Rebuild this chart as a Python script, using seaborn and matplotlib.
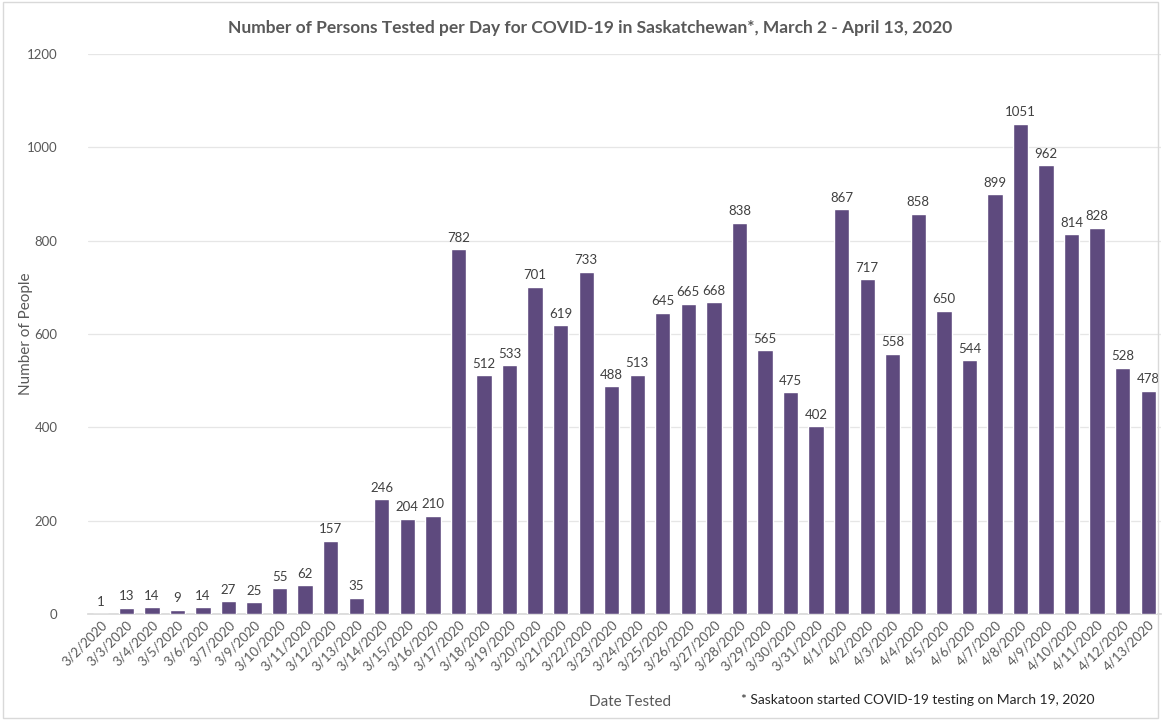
import matplotlib
matplotlib.use("Agg")
import matplotlib.pyplot as plt
import seaborn as sns
import pandas as pd
from matplotlib.patches import Rectangle

dates = ["3/2/2020", "3/3/2020", "3/4/2020", "3/5/2020", "3/6/2020", "3/7/2020", "3/9/2020",
         "3/10/2020", "3/11/2020", "3/12/2020", "3/13/2020", "3/14/2020", "3/15/2020", "3/16/2020",
         "3/17/2020", "3/18/2020", "3/19/2020", "3/20/2020", "3/21/2020", "3/22/2020", "3/23/2020",
         "3/24/2020", "3/25/2020", "3/26/2020", "3/27/2020", "3/28/2020", "3/29/2020", "3/30/2020",
         "3/31/2020", "4/1/2020", "4/2/2020", "4/3/2020", "4/4/2020", "4/5/2020", "4/6/2020",
         "4/7/2020", "4/8/2020", "4/9/2020", "4/10/2020", "4/11/2020", "4/12/2020", "4/13/2020"]
tested = [1, 13, 14, 9, 14, 27, 25, 55, 62, 157, 35, 246, 204, 210, 782, 512, 533, 701, 619, 733,
          488, 513, 645, 665, 668, 838, 565, 475, 402, 867, 717, 558, 858, 650, 544, 899, 1051, 962,
          814, 828, 528, 478]
yticks = [0, 200, 400, 600, 800, 1000, 1200]

sns.set_theme(style="white")
plt.rcParams['font.family'] = ['Lato', 'DejaVu Sans']

df = pd.DataFrame({"date": dates, "n": tested})
fig = plt.figure(figsize=(11.62, 7.2), dpi=100)
ax = fig.add_axes([88/1162, 1-614/720, (1161-88)/1162, (614-54)/720])

sns.barplot(data=df, x="date", y="n", order=dates, color="#5e4a7e", saturation=1,
            width=0.6, ax=ax, zorder=3)
ax.set_xlim(-0.5, len(dates)-0.5)
ax.set_ylim(0, 1200)
ax.set_yticks(yticks)
ax.yaxis.grid(True, color="#e6e6e6", linewidth=0.9, zorder=0)
ax.set_axisbelow(True)
for s in ["top", "right", "left"]:
    ax.spines[s].set_visible(False)
ax.spines["bottom"].set_color("#d9d9d9")
ax.tick_params(axis="y", labelsize=9.5, labelcolor="#595959", length=0, pad=22)
ax.tick_params(axis="x", labelsize=9.5, labelcolor="#595959", length=0, pad=3)
plt.setp(ax.get_xticklabels(), rotation=45, ha="right", rotation_mode="anchor")

ax.bar_label(ax.containers[0], labels=[str(v) for v in tested], padding=4,
             fontsize=9.5, color="#404040")

ax.set_xlabel("Date Tested", fontsize=11, color="#595959", labelpad=0)
ax.xaxis.set_label_coords((630-88)/(1161-88), -(695-614)/(614-54))
ax.set_ylabel("Number of People", fontsize=11, color="#595959", labelpad=10)
ax.yaxis.set_label_coords(-(88-33)/(1161-88), 0.5)

fig.text(590/1162, 1-28/720, "Number of Persons Tested per Day for COVID-19 in Saskatchewan*, March 2 - April 13, 2020",
         ha="center", va="center", fontsize=12.5, fontweight="bold", color="#595959")
fig.text(918/1162, 1-700/720, "* Saskatoon started COVID-19 testing on March 19, 2020",
         ha="center", va="center", fontsize=10, color="#262626")

fig.patches.append(Rectangle((3/1162, 2/720), 1155/1162, 716/720, transform=fig.transFigure,
                             fill=False, edgecolor="#d9d9d9", linewidth=1))
fig.savefig("out.png", dpi=100)
